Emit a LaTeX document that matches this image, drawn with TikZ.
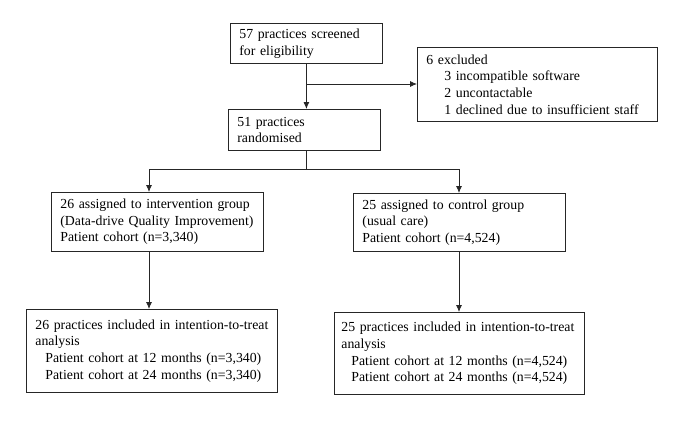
\documentclass[tikz,border=0pt]{standalone}
\usepackage{fontspec}
\setmainfont{Liberation Serif}
\usetikzlibrary{arrows.meta}

\begin{document}
\begin{tikzpicture}[x=1pt,y=-1pt,
    box/.style={draw=black!85, line width=0.8pt, anchor=north west, align=left,
      inner xsep=9pt, inner ysep=0pt, font=\fontsize{13.8}{16.7}\selectfont},
    link/.style={draw=black!85, line width=0.8pt},
    arr/.style={link, -{Latex[length=7pt,width=6pt]}}]
        \useasboundingbox (0,0) rectangle (680,423);
        % boxes
        \node[box, text width=134pt, minimum height=40pt] (scr) at (230,23)
            {57 practices screened\\for eligibility};
        \node[box, text width=222pt, minimum height=74pt] (excl) at (417,47)
            {6 excluded\\\hspace*{18pt}3 incompatible software\\\hspace*{18pt}2 uncontactable\\\hspace*{18pt}1 declined due to insufficient staff};
        \node[box, text width=134pt, minimum height=41pt] (rand) at (228,109)
            {51 practices\\randomised};
        \node[box, text width=194pt, minimum height=59pt] (grpA) at (51,192)
            {26 assigned to intervention group\\(Data-drive Quality Improvement)\\Patient cohort (n=3,340)};
        \node[box, text width=194pt, minimum height=58pt] (grpB) at (353,193)
            {25 assigned to control group\\(usual care)\\Patient cohort (n=4,524)};
        \node[box, text width=233pt, minimum height=83pt] (itA) at (26,309)
            {26 practices included in intention-to-treat\\analysis\\\hspace*{10pt}Patient cohort at 12 months (n=3,340)\\\hspace*{10pt}Patient cohort at 24 months (n=3,340)};
        \node[box, inner xsep=7pt, text width=236pt, minimum height=82pt] (itB) at (334,312)
            {25 practices included in intention-to-treat\\analysis\\\hspace*{10pt}Patient cohort at 12 months (n=4,524)\\\hspace*{10pt}Patient cohort at 24 months (n=4,524)};
        % connectors
        \coordinate (fork) at (306,84);
        \coordinate (mid) at (306,169);
        \coordinate (lft) at (149,169);
        \coordinate (rgt) at (459,169);
        \draw[arr] (scr.south) -- (scr.south |- rand.north);
        \draw[arr] (fork) -- (fork -| excl.west);
        \draw[link] (mid |- rand.south) -- (mid);
        \draw[link] (lft) -- (rgt);
        \draw[arr] (lft) -- (lft |- grpA.north);
        \draw[arr] (rgt) -- (rgt |- grpB.north);
        \draw[arr] (lft |- grpA.south) -- (lft |- itA.north);
        \draw[arr] (rgt |- grpB.south) -- (rgt |- itB.north);
    \end{tikzpicture}
\end{document}
